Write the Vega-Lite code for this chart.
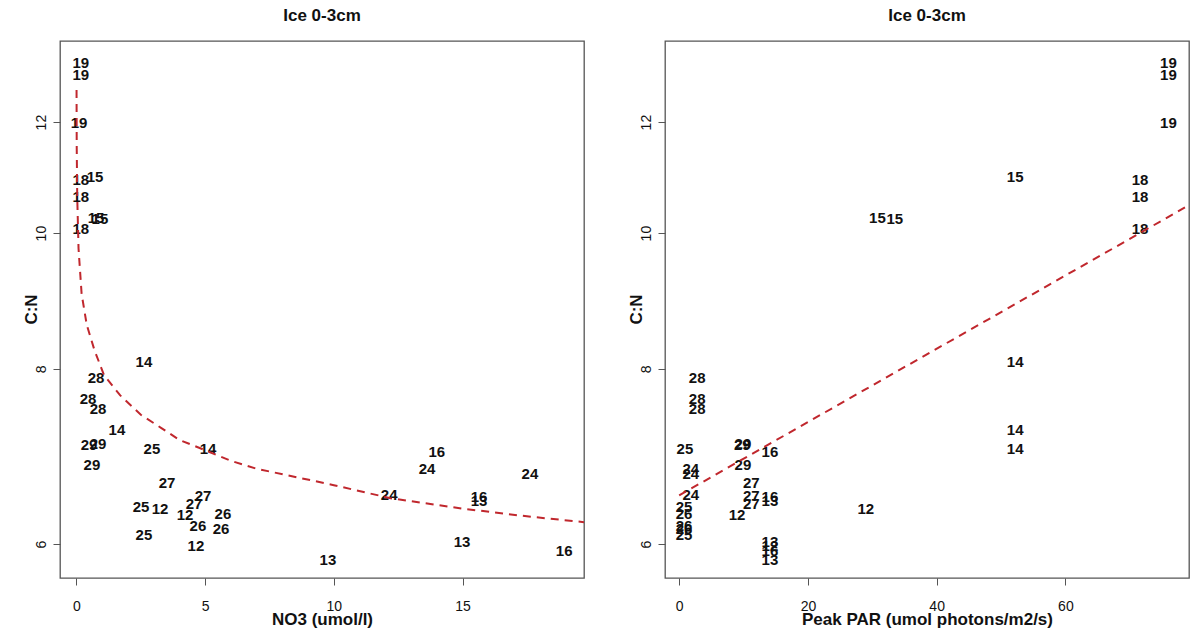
{
  "$schema": "https://vega.github.io/schema/vega-lite/v6.json",
  "background": "white",
  "padding": {"left": 21, "top": 6, "right": 4, "bottom": 0},
  "datasets": {
    "stations": [
      {"st": "19", "no3": 0.17, "par": 76.0, "cn": 13.22},
      {"st": "19", "no3": 0.17, "par": 76.0, "cn": 12.97},
      {"st": "19", "no3": 0.10, "par": 76.0, "cn": 11.98},
      {"st": "18", "no3": 0.17, "par": 71.6, "cn": 10.91},
      {"st": "18", "no3": 0.17, "par": 71.6, "cn": 10.61},
      {"st": "18", "no3": 0.17, "par": 71.6, "cn": 10.07},
      {"st": "15", "no3": 0.72, "par": 52.2, "cn": 10.96},
      {"st": "15", "no3": 0.76, "par": 30.8, "cn": 10.25},
      {"st": "15", "no3": 0.91, "par": 33.5, "cn": 10.24},
      {"st": "14", "no3": 2.62, "par": 52.2, "cn": 8.09},
      {"st": "14", "no3": 1.57, "par": 52.2, "cn": 7.24},
      {"st": "14", "no3": 5.11, "par": 52.2, "cn": 7.02},
      {"st": "28", "no3": 0.76, "par": 2.8, "cn": 7.88},
      {"st": "28", "no3": 0.45, "par": 2.8, "cn": 7.61},
      {"st": "28", "no3": 0.84, "par": 2.8, "cn": 7.49},
      {"st": "29", "no3": 0.49, "par": 9.8, "cn": 7.06},
      {"st": "29", "no3": 0.84, "par": 9.9, "cn": 7.07},
      {"st": "29", "no3": 0.60, "par": 9.9, "cn": 6.83},
      {"st": "25", "no3": 2.93, "par": 0.9, "cn": 7.02},
      {"st": "25", "no3": 2.51, "par": 0.75, "cn": 6.38},
      {"st": "25", "no3": 2.62, "par": 0.75, "cn": 6.09},
      {"st": "26", "no3": 5.69, "par": 0.75, "cn": 6.30},
      {"st": "26", "no3": 5.62, "par": 0.75, "cn": 6.15},
      {"st": "26", "no3": 4.72, "par": 0.75, "cn": 6.18},
      {"st": "27", "no3": 3.52, "par": 11.2, "cn": 6.63},
      {"st": "27", "no3": 4.92, "par": 11.2, "cn": 6.49},
      {"st": "27", "no3": 4.57, "par": 11.2, "cn": 6.41},
      {"st": "12", "no3": 3.25, "par": 29.0, "cn": 6.36},
      {"st": "12", "no3": 4.22, "par": 9.0, "cn": 6.29},
      {"st": "12", "no3": 4.64, "par": 14.1, "cn": 5.98},
      {"st": "16", "no3": 14.0, "par": 14.1, "cn": 6.98},
      {"st": "16", "no3": 15.64, "par": 14.1, "cn": 6.48},
      {"st": "16", "no3": 18.95, "par": 14.1, "cn": 5.93},
      {"st": "13", "no3": 15.64, "par": 14.1, "cn": 6.44},
      {"st": "13", "no3": 14.98, "par": 14.1, "cn": 6.02},
      {"st": "13", "no3": 9.77, "par": 14.1, "cn": 5.85},
      {"st": "24", "no3": 13.62, "par": 1.8, "cn": 6.79},
      {"st": "24", "no3": 17.62, "par": 1.8, "cn": 6.73},
      {"st": "24", "no3": 12.15, "par": 1.8, "cn": 6.50}
    ],
    "no3_fit": [
      {"no3": 0.003, "cn": 12.65},
      {"no3": 0.01, "cn": 11.5},
      {"no3": 0.03, "cn": 10.6},
      {"no3": 0.08, "cn": 9.75},
      {"no3": 0.2, "cn": 9.05},
      {"no3": 0.4, "cn": 8.6},
      {"no3": 0.7, "cn": 8.25},
      {"no3": 1.07, "cn": 7.92},
      {"no3": 1.7, "cn": 7.66},
      {"no3": 2.5, "cn": 7.42},
      {"no3": 3.3, "cn": 7.26},
      {"no3": 4.0, "cn": 7.12},
      {"no3": 5.0, "cn": 7.0},
      {"no3": 6.0, "cn": 6.88},
      {"no3": 7.0, "cn": 6.79},
      {"no3": 8.5, "cn": 6.7},
      {"no3": 10.0, "cn": 6.61},
      {"no3": 12.2, "cn": 6.47},
      {"no3": 15.0, "cn": 6.36},
      {"no3": 17.5, "cn": 6.28},
      {"no3": 19.72, "cn": 6.22}
    ],
    "par_fit": [
      {"par": 0, "cn": 6.5},
      {"par": 79.2, "cn": 10.47}
    ]
  },
  "spacing": 81,
  "bounds": "flush",
  "hconcat": [
    {
      "width": 524,
      "height": 537,
      "title": {"text": "Ice 0-3cm"},
      "layer": [
        {
          "data": {"name": "stations"},
          "mark": {"type": "text", "font": "Liberation Sans", "fontWeight": "bold", "fontSize": 15, "color": "#111", "align": "center", "baseline": "middle"},
          "encoding": {
            "x": {"field": "no3", "type": "quantitative", "scale": {"domain": [-0.64, 19.72], "nice": false, "zero": false},
                  "axis": {"values": [0, 5, 10, 15], "title": "NO3 (umol/l)", "titleX": 262, "titleY": 41}},
            "y": {"field": "cn", "type": "quantitative", "scale": {"type": "log", "domain": [5.675, 13.71], "nice": false},
                  "axis": {"values": [6, 8, 10, 12], "format": "d", "title": "C:N", "titleX": -29, "titleY": 268}},
            "text": {"field": "st"}
          }
        },
        {
          "data": {"name": "no3_fit"},
          "mark": {"type": "line", "color": "#c0272d", "strokeWidth": 2, "strokeDash": [8, 6], "clip": true},
          "encoding": {
            "x": {"field": "no3", "type": "quantitative"},
            "y": {"field": "cn", "type": "quantitative"}
          }
        }
      ]
    },
    {
      "width": 524,
      "height": 537,
      "title": {"text": "Ice 0-3cm"},
      "layer": [
        {
          "data": {"name": "stations"},
          "mark": {"type": "text", "font": "Liberation Sans", "fontWeight": "bold", "fontSize": 15, "color": "#111", "align": "center", "baseline": "middle"},
          "encoding": {
            "x": {"field": "par", "type": "quantitative", "scale": {"domain": [-2.2, 79.2], "nice": false, "zero": false},
                  "axis": {"values": [0, 20, 40, 60], "title": "Peak PAR (umol photons/m2/s)", "titleX": 262, "titleY": 41}},
            "y": {"field": "cn", "type": "quantitative", "scale": {"type": "log", "domain": [5.675, 13.71], "nice": false},
                  "axis": {"values": [6, 8, 10, 12], "format": "d", "title": "C:N", "titleX": -29, "titleY": 268}},
            "text": {"field": "st"}
          }
        },
        {
          "data": {"name": "par_fit"},
          "mark": {"type": "line", "color": "#c0272d", "strokeWidth": 2, "strokeDash": [8, 6], "clip": true},
          "encoding": {
            "x": {"field": "par", "type": "quantitative"},
            "y": {"field": "cn", "type": "quantitative"}
          }
        }
      ]
    }
  ],
  "config": {
    "font": "Liberation Sans",
    "view": {"stroke": "#555", "strokeWidth": 1.3},
    "axis": {
      "grid": false,
      "domain": false,
      "ticks": true,
      "tickColor": "#555",
      "tickSize": 7,
      "labelFont": "Liberation Sans",
      "labelFontSize": 14,
      "labelColor": "#111",
      "labelBaseline": "middle",
      "titleFont": "Liberation Sans",
      "titleFontSize": 17,
      "titleFontWeight": "bold",
      "titleColor": "#111",
      "titleAlign": "center",
      "titleBaseline": "middle"
    },
    "axisX": {"labelPadding": 21, "labelAngle": 0, "labelAlign": "center"},
    "axisY": {"labelPadding": 12, "labelAngle": 270, "labelAlign": "center", "titleAngle": 270},
    "title": {"font": "Liberation Sans", "fontSize": 17, "fontWeight": "bold", "color": "#111", "offset": 16, "anchor": "middle"}
  }
}
